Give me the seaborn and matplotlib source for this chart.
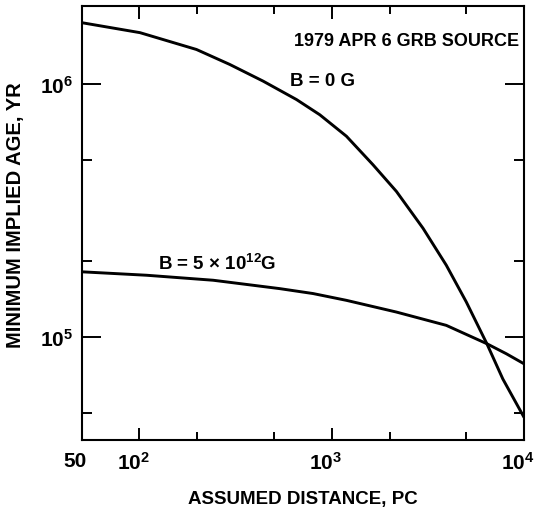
import matplotlib
matplotlib.use("Agg")
import matplotlib.pyplot as plt
import matplotlib.transforms as mtransforms
import seaborn as sns
import pandas as pd
from matplotlib.ticker import FixedLocator, NullFormatter, FixedFormatter

# Data
dist_b0 = [50, 100.7, 198, 295, 440, 656, 867, 1193, 1640, 2170, 2984, 3943, 5010, 6410, 7760, 10000]
age_b0 = [1.745e6, 1.593e6, 1.367e6, 1.193e6, 1.025e6, 8.67e5, 7.55e5, 6.21e5, 4.79e5, 3.76e5,
          2.69e5, 1.922e5, 1.376e5, 9.41e4, 6.83e4, 4.82e4]
dist_b12 = [50, 109, 242, 537, 800, 1193, 2170, 3943, 6410, 8090, 10000]
age_b12 = [1.81e5, 1.754e5, 1.676e5, 1.553e5, 1.485e5, 1.396e5, 1.255e5, 1.112e5, 9.41e4, 8.59e4, 7.84e4]
series_names = ["B = 0 G", "B = 5e12 G"]

x_major = [50, 100, 1000, 10000]
x_major_labels = ["50", r"$10^{2}$", r"$10^{3}$", r"$10^{4}$"]
x_minor = [200, 500, 2000, 5000]
y_major = [1e5, 1e6]
y_major_labels = [r"$10^{5}$", r"$10^{6}$"]
y_minor = [5e4, 2e5, 5e5]

df = pd.concat([
    pd.DataFrame({"dist": dist_b0, "age": age_b0, "series": series_names[0]}),
    pd.DataFrame({"dist": dist_b12, "age": age_b12, "series": series_names[1]}),
])

sns.set_style("white")
FONT = ["Liberation Sans", "DejaVu Sans"]
plt.rcParams["font.family"] = FONT
plt.rcParams["font.weight"] = "bold"
plt.rcParams["text.color"] = "black"
plt.rcParams["axes.labelcolor"] = "black"
plt.rcParams["xtick.color"] = "black"
plt.rcParams["ytick.color"] = "black"
plt.rcParams["mathtext.fontset"] = "custom"
plt.rcParams["mathtext.rm"] = "Liberation Sans:bold"
plt.rcParams["mathtext.bf"] = "Liberation Sans:bold"
plt.rcParams["mathtext.default"] = "bf"

fig = plt.figure(figsize=(5.38, 5.10), dpi=100)
ax = fig.add_axes([81.5 / 538, 69 / 510, 442.5 / 538, 434 / 510])

sns.lineplot(data=df, x="dist", y="age", hue="series", palette=["black", "black"],
             linewidth=2.1, legend=False, ax=ax, sort=False, estimator=None)

ax.set_xscale("log")
ax.set_yscale("log")
ax.set_xlim(50, 10000)
ax.set_ylim(3.92e4, 2.03e6)

ax.xaxis.set_major_locator(FixedLocator(x_major))
ax.xaxis.set_major_formatter(FixedFormatter(x_major_labels))
ax.xaxis.set_minor_locator(FixedLocator(x_minor))
ax.xaxis.set_minor_formatter(NullFormatter())
ax.yaxis.set_major_locator(FixedLocator(y_major))
ax.yaxis.set_major_formatter(FixedFormatter(y_major_labels))
ax.yaxis.set_minor_locator(FixedLocator(y_minor))
ax.yaxis.set_minor_formatter(NullFormatter())

ax.tick_params(which="both", direction="in", top=True, right=True, bottom=True, left=True,
               color="black", width=1.4)
ax.tick_params(axis="x", which="major", length=9, pad=8, labelsize=15)
ax.tick_params(axis="x", which="minor", length=6)
ax.tick_params(axis="y", which="major", length=14, pad=6, labelsize=15)
ax.tick_params(axis="y", which="minor", length=7)

# shift x tick labels slightly left, as in the reference
offset = mtransforms.ScaledTranslation(-6 / 100, 0, fig.dpi_scale_trans)
for lab in ax.get_xticklabels():
    lab.set_transform(lab.get_transform() + offset)

for s in ax.spines.values():
    s.set_color("black")
    s.set_linewidth(1.5)

ax.set_xlabel("ASSUMED DISTANCE, PC", fontsize=13.5, fontweight="bold", labelpad=12)
ax.set_ylabel("MINIMUM IMPLIED AGE, YR", fontsize=14.5, fontweight="bold", labelpad=12)
ax.yaxis.set_label_coords(-0.128, 0.52)

ax.text(0.99, 0.92, "1979 APR 6 GRB SOURCE", transform=ax.transAxes, ha="right", va="center",
        fontsize=13, fontweight="bold")
ax.text(0.472, 0.829, "B = 0 G", transform=ax.transAxes, ha="left", va="center",
        fontsize=13.5, fontweight="bold")
ax.text(0.172, 0.408, r"B = 5 $\times$ 10$^{12}$G", transform=ax.transAxes, ha="left", va="center",
        fontsize=13.5, fontweight="bold")

fig.savefig("out.png", dpi=100, facecolor="white")
